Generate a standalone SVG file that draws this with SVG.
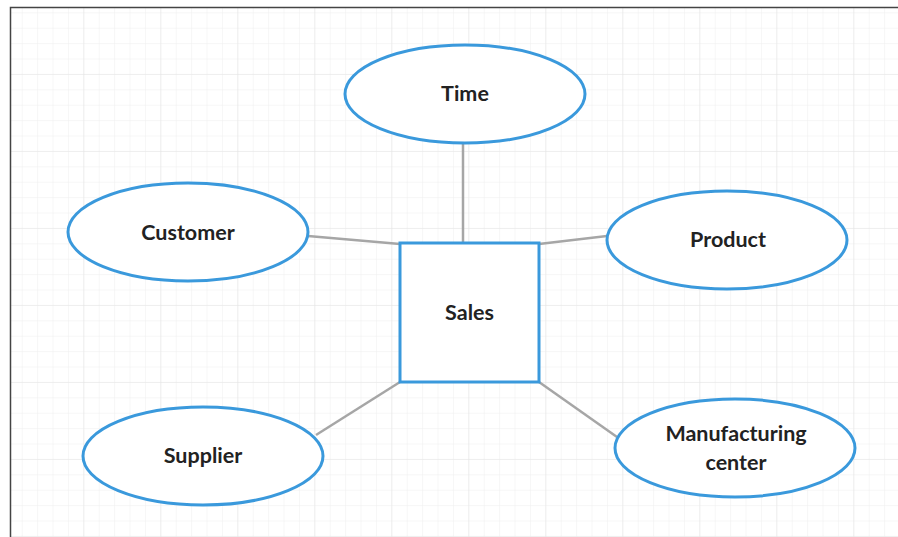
<svg xmlns="http://www.w3.org/2000/svg" width="898" height="537" viewBox="0 0 898 537">
<defs>
<pattern id="minor" x="7.3" y="-2.1" width="15.4" height="15.4" patternUnits="userSpaceOnUse">
<path d="M15.4 0V15.4M0 15.4H15.4" fill="none" stroke="#eeeeee" stroke-width="1"/>
</pattern>
<pattern id="major" x="7.3" y="-2.1" width="77" height="77" patternUnits="userSpaceOnUse">
<path d="M77 0V77M0 77H77" fill="none" stroke="#e4e4e4" stroke-width="1"/>
</pattern>
</defs>
<style>
.node{fill:#fff;stroke:#3a99dc;stroke-width:3}
.edge{stroke:#a6a6a6;stroke-width:2.5;fill:none}
.lbl{font-family:Lato,"Open Sans",sans-serif;font-weight:bold;font-size:21.5px;fill:#222;text-anchor:middle;dominant-baseline:central}
</style>
<rect x="0" y="0" width="898" height="537" fill="#fff"/>
<rect x="11" y="8" width="887" height="529" fill="url(#minor)"/>
<rect x="11" y="8" width="887" height="529" fill="url(#major)"/>
<path d="M10.5 537V7.5H898" fill="none" stroke="#444" stroke-width="1.5"/>
<g id="connectors">
<line class="edge" x1="463" y1="143" x2="463" y2="242"/>
<line class="edge" x1="308" y1="236" x2="400" y2="244"/>
<line class="edge" x1="539" y1="244" x2="607" y2="236"/>
<line class="edge" x1="316" y1="435" x2="400" y2="382"/>
<line class="edge" x1="539" y1="382" x2="617" y2="437"/>
</g>
<g id="sales">
<rect class="node" x="400" y="243" width="139" height="139"/>
<text class="lbl" x="469.5" y="312">Sales</text>
</g>
<g id="time">
<ellipse class="node" cx="465" cy="94" rx="120" ry="49"/>
<text class="lbl" x="465" y="93">Time</text>
</g>
<g id="customer">
<ellipse class="node" cx="188" cy="232" rx="120" ry="49"/>
<text class="lbl" x="188" y="232">Customer</text>
</g>
<g id="product">
<ellipse class="node" cx="727" cy="240" rx="120" ry="49"/>
<text class="lbl" x="728" y="239">Product</text>
</g>
<g id="supplier">
<ellipse class="node" cx="203" cy="456" rx="120" ry="49"/>
<text class="lbl" x="203" y="455">Supplier</text>
</g>
<g id="manufacturing">
<ellipse class="node" cx="735" cy="448" rx="120" ry="49"/>
<text class="lbl" x="736" y="433">Manufacturing</text>
<text class="lbl" x="736" y="462">center</text>
</g>
</svg>
